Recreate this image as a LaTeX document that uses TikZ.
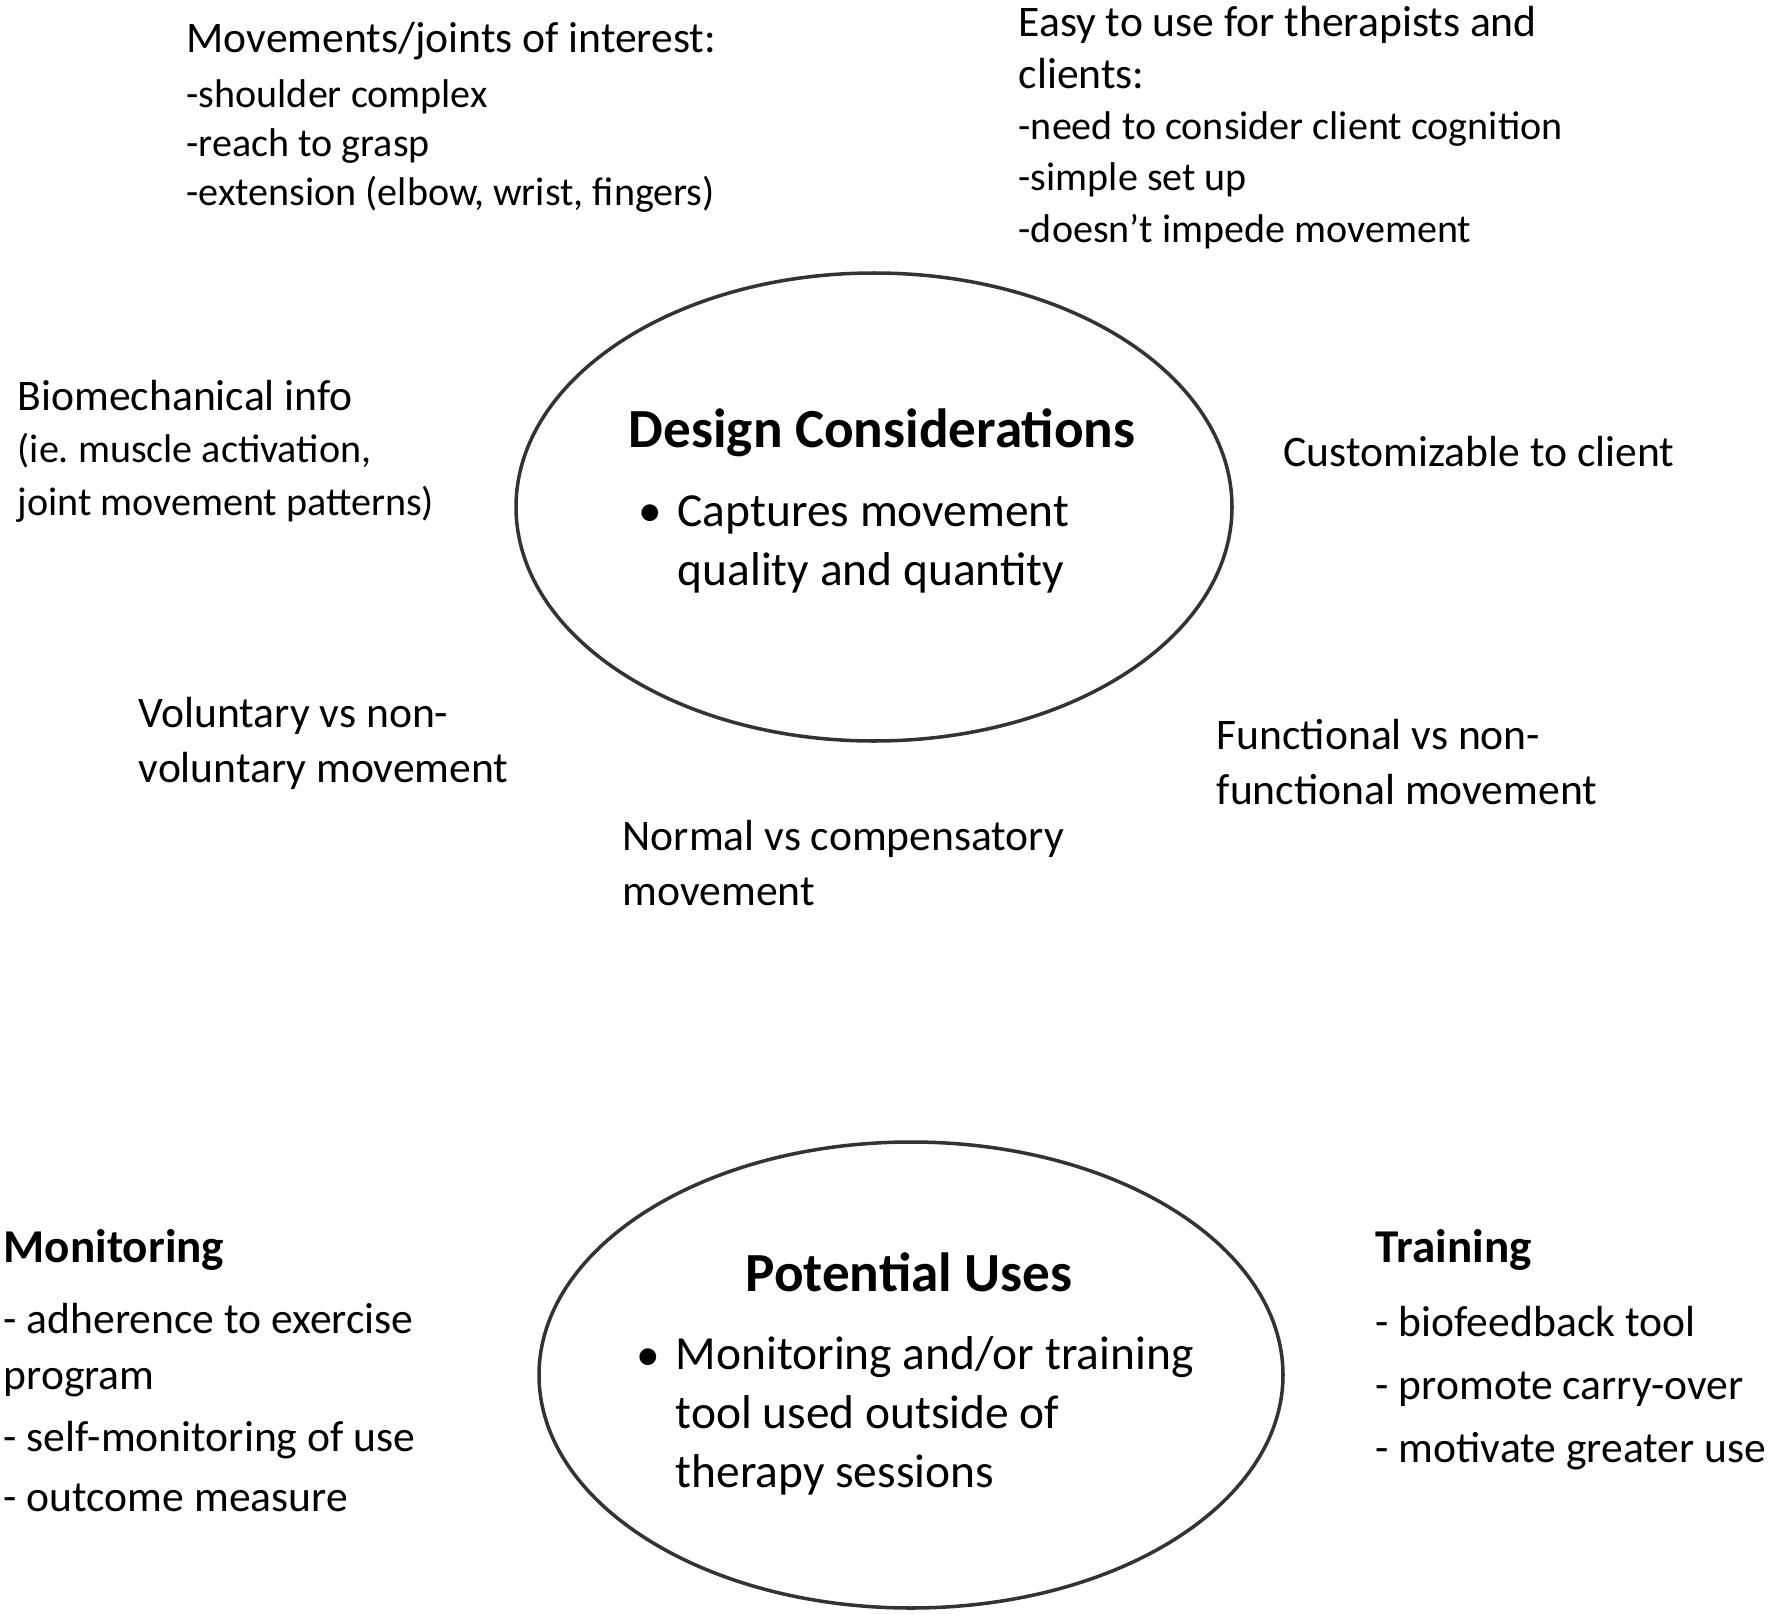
\documentclass[tikz,border=0pt]{standalone}
\usepackage{fontspec}
\setmainfont{Carlito}
\usepackage{tikz}
\usetikzlibrary{shapes.geometric}

\newcommand{\sub}{\fontsize{11.4}{14}\selectfont}

\begin{document}
\begin{tikzpicture}[
  x=0.1mm, y=-0.1mm,
  oval/.style={draw=black!80, line width=1pt, ellipse, inner sep=0pt},
  txt/.style={anchor=base west, align=left, inner sep=0pt, font=\fontsize{12.4}{15.4}\selectfont},
  hdr/.style={anchor=base west, inner sep=0pt, font=\fontsize{13.4}{16}\selectfont\bfseries},
  ttl/.style={anchor=base, inner sep=0pt, font=\fontsize{15.7}{19}\selectfont\bfseries},
  bul/.style={anchor=base west, align=left, inner sep=0pt, font=\fontsize{13.5}{16.7}\selectfont}
]
  \useasboundingbox (0,0) rectangle (1770,1615);

  % Design considerations
  \node[oval, minimum width=71.6mm, minimum height=46.8mm] (design) at (874,507) {};
  \node[ttl] (dctitle) at (882,447) {Design Considerations};
  \node[bul] (dcbullet) at (638,526) {\textbullet};
  \node[bul] (dctext) at (677,585) {Captures movement\\quality and quantity};

  % multi-line texts sit on their last baseline
  \node[txt, font=\fontsize{12.4}{13.9}\selectfont] (movements) at (186,205)
    {Movements/joints of interest:\\[1.7pt]{\sub -shoulder complex}\\{\sub -reach to grasp}\\{\sub -extension (elbow, wrist, fingers)}};
  \node[txt, font=\fontsize{12.4}{14.6}\selectfont] (easyuse) at (1018,242)
    {Easy to use for therapists and\\clients:\\{\sub -need to consider client cognition}\\{\sub -simple set up}\\{\sub -doesn’t impede movement}};
  \node[txt, font=\fontsize{12.4}{14.8}\selectfont] (biomech) at (17,515)
    {Biomechanical info\\{\sub (ie.\ muscle activation,}\\{\sub joint movement patterns)}};
  \node[txt] (custom) at (1283,466) {Customizable to client};
  \node[txt] (voluntary) at (138,782) {Voluntary vs non-\\voluntary movement};
  \node[txt] (functional) at (1216,804) {Functional vs non-\\functional movement};
  \node[txt] (normal) at (622,905) {Normal vs compensatory\\movement};

  % Potential uses
  \node[oval, minimum width=74.4mm, minimum height=46.6mm] (uses) at (911,1375) {};
  \node[ttl] (putitle) at (909,1291) {Potential Uses};
  \node[bul] (pubullet) at (636,1370) {\textbullet};
  \node[bul] (putext) at (675,1487) {Monitoring and/or training\\tool used outside of\\therapy sessions};

  \node[hdr] (monhead) at (3,1262) {Monitoring};
  \node[txt, font=\fontsize{12.4}{16}\selectfont] (monlist) at (3,1511)
    {- adherence to exercise\\program\\[1.5pt]- self-monitoring of use\\[1pt]- outcome measure};
  \node[hdr] (trainhead) at (1375,1262) {Training};
  \node[txt, font=\fontsize{12.4}{17.8}\selectfont] (trainlist) at (1375,1462)
    {- biofeedback tool\\- promote carry-over\\- motivate greater use};
\end{tikzpicture}
\end{document}
